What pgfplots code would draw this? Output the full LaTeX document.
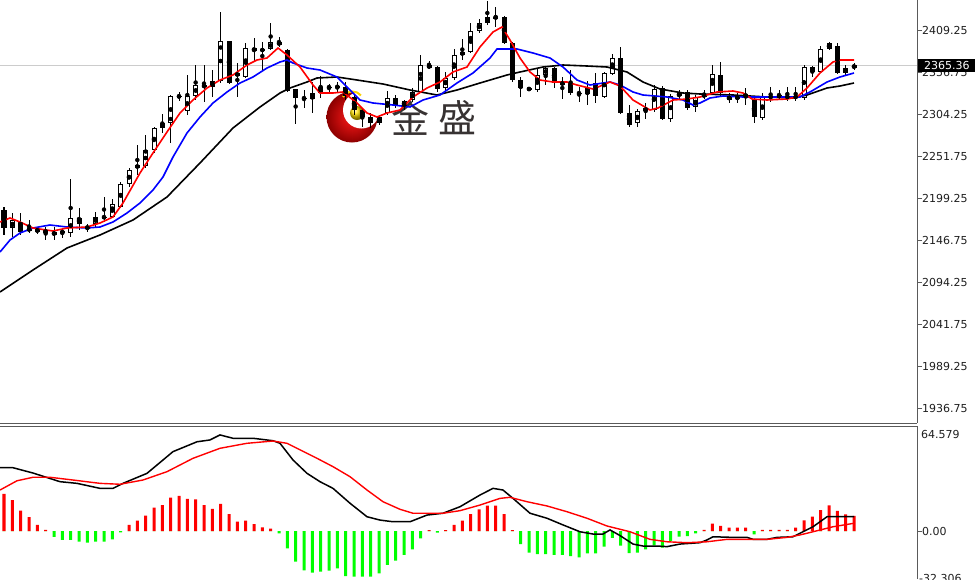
\documentclass[border=0pt]{standalone}
\usepackage{pgfplots}
\pgfplotsset{compat=1.18}
\usepackage{pgfplotstable}
\usepackage{fontspec}
\setmainfont{DejaVu Sans}
\newfontfamily\cjk{Noto Sans CJK SC}
\definecolor{axgray}{RGB}{90,90,90}
\definecolor{txt}{RGB}{30,30,30}
\definecolor{logotxt}{RGB}{55,50,50}
\definecolor{macdgreen}{RGB}{0,255,0}
\definecolor{mared}{RGB}{255,0,0}
\definecolor{mablue}{RGB}{0,0,255}
\newcommand\lbl{\fontsize{11}{11}\selectfont}

\pgfplotstableread{
i o h l c
0 2184.25 2188.0 2153.0 2161.75
1 2161.75 2180.5 2150.5 2171.75
2 2169.25 2180.5 2153.0 2156.75
3 2158.0 2171.75 2155.5 2161.75
4 2160.5 2163.0 2154.25 2156.75
5 2155.5 2163.0 2146.75 2159.25
6 2156.75 2163.0 2146.75 2153.0
7 2155.5 2161.75 2149.25 2158.0
8 2155.5 2223.0 2150.5 2174.25
9 2174.25 2186.75 2159.25 2166.75
10 2163.0 2166.75 2156.75 2161.75
11 2166.75 2181.75 2163.0 2175.5
12 2175.0 2200.5 2169.25 2175.5
13 2175.5 2198.0 2174.25 2191.75
14 2188.0 2219.25 2186.75 2216.75
15 2216.75 2236.75 2213.0 2234.25
16 2236.75 2265.5 2228.0 2240.5
17 2239.25 2278.0 2236.75 2259.25
18 2259.25 2288.0 2255.5 2286.75
19 2286.75 2304.25 2280.5 2293.0
20 2293.0 2328.0 2268.0 2326.75
21 2326.0 2331.75 2320.5 2326.75
22 2308.0 2353.0 2303.0 2326.75
23 2326.75 2365.5 2321.75 2340.5
24 2340.5 2365.5 2319.25 2338.0
25 2338.0 2359.25 2325.5 2345.5
26 2345.5 2431.75 2343.0 2395.5
27 2395.5 2395.5 2341.75 2343.0
28 2355.5 2368.0 2325.5 2351.75
29 2350.5 2393.0 2349.25 2386.75
30 2386.75 2399.25 2369.25 2383.0
31 2383.0 2394.25 2359.25 2385.5
32 2385.5 2418.0 2384.25 2394.25
33 2394.25 2400.5 2388.0 2390.5
34 2384.25 2385.5 2331.75 2333.0
35 2335.5 2335.5 2291.75 2324.25
36 2323.75 2334.25 2311.75 2324.25
37 2323.0 2344.25 2305.5 2330.5
38 2330.5 2351.75 2324.25 2338.0
39 2337.5 2341.75 2331.75 2338.0
40 2338.5 2344.25 2330.5 2338.0
41 2338.0 2344.25 2321.75 2326.75
42 2325.5 2328.0 2303.0 2309.25
43 2309.25 2311.75 2288.0 2300.5
44 2300.5 2305.5 2286.75 2293.0
45 2293.0 2303.0 2290.5 2300.5
46 2305.5 2333.0 2303.0 2324.25
47 2324.25 2328.0 2311.75 2314.25
48 2314.25 2321.75 2309.25 2320.5
49 2321.75 2336.75 2319.25 2331.75
50 2331.75 2378.0 2330.5 2365.5
51 2365.5 2370.5 2361.0 2361.75
52 2363.0 2364.25 2331.75 2335.5
53 2336.75 2356.75 2331.75 2349.25
54 2349.25 2385.5 2346.75 2378.0
55 2378.0 2398.0 2371.75 2381.75
56 2381.75 2418.0 2380.5 2408.0
57 2408.0 2423.0 2405.5 2418.0
58 2418.0 2445.5 2415.5 2425.5
59 2425.5 2438.0 2413.0 2424.25
60 2425.5 2426.75 2392.0 2393.0
61 2393.0 2394.25 2344.25 2346.75
62 2346.75 2350.5 2325.5 2336.75
63 2335.25 2338.0 2333.0 2335.75
64 2334.25 2361.75 2331.75 2353.0
65 2353.0 2363.0 2340.5 2361.75
66 2361.75 2362.5 2336.75 2343.0
67 2340.5 2350.5 2323.0 2344.25
68 2343.0 2359.25 2328.0 2330.5
69 2330.0 2338.0 2319.25 2330.5
70 2329.25 2345.5 2315.5 2336.75
71 2343.0 2355.5 2318.0 2326.75
72 2325.5 2356.75 2324.25 2355.5
73 2354.25 2379.25 2353.0 2374.25
74 2374.25 2388.0 2304.25 2305.5
75 2305.5 2315.5 2288.0 2290.5
76 2293.0 2310.5 2288.0 2308.0
77 2308.0 2318.0 2298.0 2311.75
78 2309.25 2340.5 2306.75 2335.5
79 2336.75 2339.25 2296.75 2298.0
80 2298.0 2329.25 2294.25 2326.75
81 2326.75 2334.25 2321.75 2330.5
82 2331.75 2334.25 2309.25 2311.75
83 2313.0 2328.0 2306.75 2325.5
84 2325.5 2334.25 2323.0 2329.25
85 2330.5 2365.5 2328.0 2354.25
86 2353.0 2369.25 2325.5 2330.5
87 2326.75 2330.5 2318.0 2321.75
88 2323.0 2330.5 2318.0 2326.75
89 2329.25 2336.75 2315.5 2325.5
90 2321.75 2325.5 2293.0 2300.5
91 2299.25 2330.5 2296.75 2325.5
92 2325.25 2338.0 2319.25 2325.75
93 2326.5 2334.25 2321.75 2327.0
94 2325.5 2338.0 2320.5 2326.0
95 2324.25 2338.0 2320.5 2326.75
96 2324.25 2365.5 2321.75 2363.0
97 2363.0 2364.0 2350.5 2356.75
98 2356.75 2389.25 2355.5 2385.5
99 2385.5 2394.25 2384.25 2393.0
100 2389.25 2393.0 2354.25 2355.5
101 2355.5 2365.5 2353.0 2361.75
102 2361.75 2368.0 2359.25 2365.36
}\candles

\pgfplotstableread{
i pos neg
0 24.4 0
1 20.4 0
2 13.4 0
3 9.2 0
4 4.0 0
5 0.7 0
6 0 -3.8
7 0 -5.9
8 0 -5.9
9 0 -7.0
10 0 -7.7
11 0 -7.0
12 0 -7.0
13 0 -5.5
14 0 -0.9
15 4.0 0
16 6.8 0
17 10.1 0
18 15.4 0
19 17.1 0
20 22.0 0
21 23.1 0
22 21.1 0
23 20.9 0
24 17.1 0
25 14.5 0
26 17.8 0
27 11.2 0
28 6.2 0
29 6.8 0
30 4.6 0
31 2.4 0
32 1.5 0
33 0 -1.5
34 0 -11.4
35 0 -20.2
36 0 -25.9
37 0 -27.5
38 0 -26.8
39 0 -26.1
40 0 -24.6
41 0 -29.7
42 0 -30.1
43 0 -30.1
44 0 -30.1
45 0 -27.9
46 0 -22.4
47 0 -19.6
48 0 -15.8
49 0 -12.1
50 0 -4.8
51 0.5 0
52 0 -1.1
53 0.5 0
54 4.0 0
55 6.8 0
56 11.2 0
57 14.3 0
58 16.7 0
59 16.7 0
60 11.2 0
61 0.5 0
62 0 -8.6
63 0 -14.3
64 0 -15.2
65 0 -15.2
66 0 -15.8
67 0 -15.8
68 0 -16.5
69 0 -17.4
70 0 -14.7
71 0 -14.7
72 0 -10.3
73 0 -4.6
74 0 -9.6
75 0 -14.5
76 0 -14.3
77 0 -12.1
78 0 -9.4
79 0 -11.0
80 0 -6.6
81 0 -3.7
82 0 -3.3
83 0 -1.5
84 0.7 0
85 4.8 0
86 3.3 0
87 2.2 0
88 2.2 0
89 2.2 0
90 0 -2.2
91 0.7 0
92 0.7 0
93 0.7 0
94 0.7 0
95 2.2 0
96 7.0 0
97 9.4 0
98 13.8 0
99 16.9 0
100 13.2 0
101 11.0 0
102 9.9 0
}\hist

\begin{document}
\begin{tikzpicture}
\path[use as bounding box] (0,0) rectangle (975pt,-579pt);
% watermark logo
\shade[inner color=red!90!white, outer color=red!55!black] (352pt,-117pt) circle (25.5pt);
\fill[white] (361.5pt,-110pt) circle (18.5pt);
\draw[yellow!70!orange, line width=2pt] (343pt,-97pt) arc[start angle=150, end angle=40, radius=11pt];
\shade[ball color=yellow!75!orange] (357pt,-113pt) circle (7pt);
\node[font=\cjk\fontsize{38}{38}\selectfont, text=logotxt, inner sep=0pt] at (410pt,-118pt) {金};
\node[font=\cjk\fontsize{38}{38}\selectfont, text=logotxt, inner sep=0pt] at (457pt,-118pt) {盛};

\begin{axis}[
  at={(0pt,0pt)}, anchor=north west,
  width=917pt, height=423pt, scale only axis,
  xmin=-0.48, xmax=109.56, ymin=1918, ymax=2446.75,
  axis x line=bottom, axis y line=right,
  axis line style={-, draw=axgray, line width=1pt},
  xtick=\empty,
  ytick={1936.75,1989.25,2041.75,2094.25,2146.75,2199.25,2251.75,2304.25,2356.75,2409.25},
  yticklabels={1936.75,1989.25,2041.75,2094.25,2146.75,2199.25,2251.75,2304.25,2356.75,2409.25},
  tick align=outside, major tick length=5pt,
  tick style={draw=axgray, line width=0.8pt},
  yticklabel style={font=\lbl, text=txt, anchor=west, inner sep=0pt},
]
\addplot[forget plot, gray!40, line width=0.8pt] coordinates {(-0.48,2365.36) (109.56,2365.36)};
% wicks
\addplot[forget plot, only marks, mark=none,
  error bars/.cd, y dir=both, y explicit, error mark=none,
  error bar style={black, line width=1pt}]
  table[x=i, y expr={(\thisrow{h}+\thisrow{l})/2}, y error expr={(\thisrow{h}-\thisrow{l})/2}] {\candles};
% bodies (outline)
\addplot[forget plot, only marks, mark=none,
  error bars/.cd, y dir=both, y explicit, error mark=none,
  error bar style={black, line width=5pt}]
  table[x=i, y expr={(\thisrow{o}+\thisrow{c})/2}, y error expr={abs(\thisrow{c}-\thisrow{o})/2+0.6}] {\candles};
% bodies (white fill of rising candles)
\addplot[forget plot, only marks, mark=none,
  error bars/.cd, y dir=both, y explicit, error mark=none,
  error bar style={white, line width=3pt}]
  table[x=i, y expr={(\thisrow{o}+\thisrow{c})/2}, y error expr={max((\thisrow{c}-\thisrow{o})/2-0.65,0)}] {\candles};
% slow MA (black)
\addplot[black, line width=1.6pt] coordinates {
(-0.48,2081.75) (3.48,2109.25) (7.56,2136.75) (11.52,2153.0) (15.48,2171.75) (19.56,2200.5)
(23.52,2243.0) (27.48,2286.75) (30.72,2313.0) (33.12,2330.5) (34.32,2336.75) (36.36,2344.25)
(37.56,2349.25) (39.96,2350.5) (42.36,2346.75) (45.48,2341.75) (48.72,2334.25) (51.96,2328.0)
(54.36,2334.25) (57.12,2343.0) (60.36,2353.0) (61.92,2356.75) (64.68,2363.0) (67.08,2365.5)
(69.96,2364.25) (72.36,2363.0) (74.76,2356.75) (76.68,2344.25) (78.72,2335.5) (81.48,2330.5)
(83.52,2329.25) (87.48,2328.0) (91.56,2325.5) (94.68,2324.25) (96.36,2328.0) (98.76,2336.75)
(100.32,2339.25) (102,2343.0)};
% medium MA (blue)
\addplot[mablue, line width=1.6pt] coordinates {
(-0.48,2131.75) (0.72,2146.75) (1.92,2155.5) (3.48,2161.75) (5.52,2165.5) (7.56,2163.0)
(9.96,2161.75) (11.52,2163.0) (13.08,2169.25) (14.76,2180.5) (16.32,2193.0) (17.88,2209.25)
(19.08,2225.5) (20.28,2250.5) (21.96,2280.5) (23.52,2300.5) (25.08,2318.0) (26.76,2331.75)
(28.32,2343.0) (29.88,2350.5) (31.56,2361.75) (33.12,2369.25) (33.96,2371.75) (34.68,2368.0)
(36.36,2361.75) (37.92,2359.25) (39.96,2350.5) (41.52,2334.25) (42.72,2321.75) (44.28,2318.0)
(46.68,2315.5) (48.72,2313.0) (50.28,2321.75) (52.32,2328.0) (54.36,2343.0) (56.28,2355.5)
(58.32,2374.25) (59.16,2385.5) (61.56,2385.5) (63.48,2380.5) (65.52,2374.25) (67.08,2363.0)
(68.76,2346.75) (70.32,2340.5) (71.88,2343.0) (72.72,2344.25) (73.92,2340.5) (75.48,2331.75)
(76.68,2328.0) (79.56,2325.5) (81.48,2321.75) (82.68,2315.5) (83.52,2318.0) (84.72,2324.25)
(86.28,2326.75) (88.68,2325.5) (93.96,2325.5) (95.52,2325.5) (96.72,2331.75) (98.76,2344.25)
(100.32,2350.5) (102,2355.5)};
% fast MA (red)
\addplot[mared, line width=1.6pt] coordinates {
(-0.48,2169.25) (0.72,2174.25) (1.92,2169.25) (3.48,2161.75) (5.88,2158.0) (7.56,2161.75)
(9.96,2163.0) (11.52,2168.0) (13.08,2175.5) (14.28,2193.0) (16.32,2230.5) (17.88,2255.5)
(19.56,2281.75) (21.12,2305.5) (22.68,2321.75) (24.36,2336.75) (25.92,2346.75) (27.48,2353.0)
(29.16,2365.5) (30.36,2371.75) (31.56,2374.25) (32.88,2386.75) (33.96,2378.0) (35.52,2363.0)
(37.08,2340.5) (37.92,2330.5) (39.48,2330.5) (40.68,2331.75) (42.36,2318.0) (43.56,2305.5)
(44.76,2300.5) (45.96,2305.5) (47.52,2309.25) (49.08,2325.5) (50.76,2336.75) (52.32,2344.25)
(53.88,2356.75) (55.56,2363.0) (57.12,2388.0) (58.68,2406.75) (59.76,2413.0) (60.72,2396.75)
(61.92,2374.25) (63.12,2356.75) (64.32,2346.75) (65.88,2344.25) (67.56,2344.25) (68.76,2340.5)
(70.68,2335.5) (71.88,2340.5) (72.72,2344.25) (73.92,2339.25) (75.48,2321.75) (77.52,2309.25)
(78.48,2311.75) (80.28,2321.75) (81.96,2323.0) (83.52,2325.5) (85.56,2331.75) (87.48,2333.0)
(88.68,2330.5) (89.76,2323.0) (91.56,2321.75) (93.96,2323.0) (95.16,2325.5) (96.36,2336.75)
(97.92,2355.5) (99.48,2369.25) (100.32,2371.75) (102,2371.75)};
\end{axis}

\begin{axis}[
  at={(0pt,-426pt)}, anchor=north west,
  width=917pt, height=153pt, scale only axis,
  xmin=-0.48, xmax=109.56, ymin=-31.63, ymax=69.19,
  axis x line=top, axis y line=right,
  axis line style={-, draw=axgray, line width=1pt},
  xtick=\empty, ytick={0}, yticklabels={0.00},
  tick align=outside, major tick length=5pt,
  tick style={draw=axgray, line width=0.8pt},
  yticklabel style={font=\lbl, text=txt, anchor=west, inner sep=0pt},
]
\addplot[ybar, bar width=3pt, bar shift=0pt, fill=mared, draw=none] table[x=i, y=pos] {\hist};
\addplot[ybar, bar width=3pt, bar shift=0pt, fill=macdgreen, draw=none] table[x=i, y=neg] {\hist};
\addplot[black, line width=1.5pt] coordinates {
(-0.48,41.7) (1.08,41.7) (3.48,38.2) (6.72,32.5) (8.76,31.4) (11.52,28.1) (13.08,28.1) (14.28,31.4)
(17.16,38.0) (20.28,52.3) (23.16,58.8) (24.72,60.0) (25.92,63.3) (27.48,61.1) (29.88,61.1)
(32.28,59.5) (33.12,57.8) (34.68,46.8) (36.36,38.0) (37.92,32.5) (39.48,28.1) (41.52,18.3)
(43.56,9.4) (45.12,7.2) (46.68,6.1) (48.72,6.1) (50.76,10.5) (52.68,11.7) (54.72,16.0)
(57.12,23.7) (58.68,28.1) (59.88,27.0) (61.08,21.5) (63.12,11.7) (65.16,8.4) (67.08,4.0)
(69.12,-0.5) (70.68,-2.0) (71.88,-2.0) (72.72,0.7) (73.92,-3.0) (75.48,-8.6) (76.68,-9.9)
(78.36,-9.9) (79.56,-10.3) (81.12,-8.6) (83.52,-7.7) (84.36,-5.9) (85.08,-3.8) (87.48,-4.2)
(89.16,-4.2) (89.88,-5.5) (91.56,-5.5) (92.76,-4.2) (94.68,-3.8) (95.88,-0.5) (97.08,2.8)
(98.76,9.4) (100.32,9.4) (102,9.4)};
\addplot[mared, line width=1.4pt] coordinates {
(-0.48,27.0) (1.56,33.1) (3.48,35.4) (5.52,35.4) (8.28,33.6) (11.52,31.4) (13.92,30.8)
(16.68,33.6) (19.56,39.1) (22.68,47.9) (25.92,54.5) (29.16,57.8) (32.28,59.3) (33.96,57.8)
(36.36,51.2) (37.56,47.9) (39.48,42.4) (41.52,35.8) (43.56,27.0) (45.48,19.3) (47.52,14.3)
(49.08,11.7) (52.68,11.7) (54.72,13.4) (57.12,17.1) (59.52,21.5) (60.72,22.2) (62.76,19.3)
(65.16,16.5) (67.56,12.7) (69.96,8.4) (72.36,3.3) (75.12,-0.5) (77.52,-5.5) (79.56,-7.1)
(81.96,-7.7) (84.36,-7.1) (86.76,-5.5) (91.56,-5.5) (93.96,-4.2) (95.52,-2.6) (97.08,-0.5)
(99.48,2.8) (102,5.1)};
\end{axis}

% current price box and MACD range labels
\fill[black] (918pt,-59pt) rectangle (975pt,-72pt);
\node[font=\lbl, text=white, anchor=west, inner sep=0pt] at (924pt,-65.5pt) {2365.36};
\node[font=\lbl, text=txt, anchor=west, inner sep=0pt] at (921pt,-434pt) {64.579};
\node[font=\lbl, text=txt, anchor=north west, inner sep=0pt] at (919pt,-574pt) {-32.306};
\end{tikzpicture}
\end{document}
